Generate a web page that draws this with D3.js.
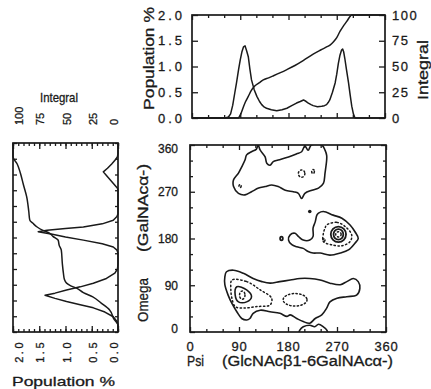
<!DOCTYPE html>
<html>
<head>
<meta charset="utf-8">
<script src="https://cdn.jsdelivr.net/npm/d3@7"></script>
<style>
body { margin: 0; background: #fff; }
text { font-family: "Liberation Sans", Arial, Helvetica, sans-serif; fill: #1a1a1a; stroke: #1a1a1a; stroke-width: 0.3; }
</style>
</head>
<body>
<svg id="fig" width="431" height="389"></svg>
<script>
// ---- Psi distribution (top panel) ----
var psiDeg = [0,62,68,72,76,80,83,87,90,93,96,99,102,105,108,111,116,121,126,130,135,139,148,158,168,177,186,195,202,208,213,217,222,226,234,242,247,251,254,257,262,267,270,273,276,279,281,283,285,288,292,295,298,301,304,360];
var psiPop = [0,0,0.02,0.08,0.25,0.5,0.68,0.95,1.13,1.28,1.38,1.4,1.3,1.19,0.95,0.74,0.55,0.42,0.32,0.26,0.21,0.19,0.16,0.14,0.16,0.19,0.24,0.29,0.32,0.35,0.32,0.29,0.26,0.24,0.22,0.23,0.24,0.26,0.3,0.35,0.5,0.68,0.85,1.06,1.22,1.32,1.34,1.28,1.16,0.95,0.68,0.45,0.23,0.08,0,0];
var psiIntDeg = [0,86,91,96,100,105,111,117,125,133,143,152,165,177,192,208,226,240,251,258,264,270,276,282,289,294,298,360];
var psiInt = [0,0,4,11,16,21,27,31,34,37,39,41,44,47,51,56,62,66,69,71,74,78,84,89,94,98,100,100];

// ---- Omega distribution (left panel) ----
var omDeg = [0,13,20,29,38,46,52,58,64,70,74,80,86,93,102,112,120,130,150,156,162,168,175,181,186,191,194,197,200,206,213,220,225,270,274,282,290,298,305,312,320,328,334,340,360];
var omPop = [0,0,0.02,0.09,0.25,0.47,0.72,0.98,1.2,1.39,1.2,0.98,0.72,0.47,0.22,0.06,0.01,0,0,0.02,0.09,0.3,0.66,1.0,1.25,1.52,1.35,1.0,0.66,0.3,0.09,0.02,0,0,0.01,0.08,0.15,0.22,0.28,0.2,0.12,0.05,0.01,0,0];
var omIntDeg = [0,13,25,42,55,67,75,83,88,93,100,112,130,156,165,175,182,188,194,200,207,213,230,258,280,303,320,334,360];
var omInt = [0,0,4,8,16,24,33,39,45,49,51,52,53,54,56,57,62,65,72,77,81,84,85,87,90,93,96,100,100];

// ---- contour map, [psi, omega] ----
var outerTop = [[101,331],[104,341],[113,347],[122,352],[125,360],[129,350],[138,337],[141,325],[147,321],[153,328],[162,331],[181,337],[196,343],[205,347],[211,358],[217,350],[223,360],[242,360],[248,350],[251,340],[251,331],[248,306],[245,286],[236,277],[224,273],[211,267],[205,257],[199,267],[190,270],[175,273],[162,280],[150,283],[138,280],[126,277],[113,270],[101,264],[89,267],[80,280],[80,293],[89,306],[95,318]];
var outerMid = [[236,229],[245,232],[263,225],[279,219],[294,206],[303,193],[309,180],[303,171],[291,158],[276,152],[257,148],[239,152],[226,152],[217,155],[208,161],[196,164],[187,168],[181,177],[184,187],[193,190],[199,184],[208,177],[220,177],[226,184],[226,200],[230,212],[233,225]];
var outerBottom = [[64,106],[67,116],[80,119],[98,113],[116,103],[132,97],[147,94],[165,97],[184,100],[202,103],[220,103],[239,100],[257,94],[276,91],[288,97],[300,103],[309,97],[312,84],[306,71],[288,68],[270,65],[257,58],[251,46],[242,33],[230,26],[220,17],[208,20],[196,26],[184,33],[178,30],[165,36],[147,39],[129,42],[116,36],[110,26],[104,23],[95,26],[86,39],[77,55],[70,71],[64,91]];
var edgeBlob = [[200,-4],[202,4],[208,10],[220,13],[229,10],[236,15],[245,10],[251,4],[253,-4]];
var innerMid = [[251,206],[270,211],[285,203],[297,187],[294,174],[279,166],[260,168],[245,174],[245,190],[248,200]];
var innerBottom = [[77,100],[104,97],[129,81],[150,65],[147,52],[123,49],[98,46],[83,49],[77,65],[75,84]];
var coreBottom = [[86,87],[104,81],[113,68],[104,58],[89,58],[83,71]];
// rings: [psi, omega, half-width psi, half-height omega]
var solidRings = [[272.6,188,14,15],[272.6,188,9,10],[168,180,2.5,3.5]];
var dottedRings = [[205,305,6,7],[226,309,2.5,4],[92,281,2,3],[193,62,22,12],[96,71,5,8],[272.6,188,5,5],[246,177,2,2.5]];
var dots = [[220,232]];

var majorDeg = [0,90,180,270,360];
var minorDeg = [30,60,120,150,210,240,300,330];
var popTicks = [0,0.5,1,1.5,2];
var intTicks = [0,25,50,75,100];

var ink = "#1a1a1a";
var svg = d3.select("#fig");

var xPsi = d3.scaleLinear().domain([0,360]).range([190,386]);
var yOmega = d3.scaleLinear().domain([0,360]).range([332,145]);
var xTop = d3.scaleLinear().domain([0,360]).range([192,385]);
var yTopPop = d3.scaleLinear().domain([0,2]).range([118,15]);
var yTopInt = d3.scaleLinear().domain([0,100]).range([118,15]);
var xSidePop = d3.scaleLinear().domain([0,2]).range([118,13]);
var xSideInt = d3.scaleLinear().domain([0,100]).range([118,13]);
var ySide = d3.scaleLinear().domain([0,360]).range([332,143]);

function frame(x, y) {
  var xr = x.range(), yr = y.range();
  svg.append("rect")
    .attr("x", Math.min(xr[0], xr[1])).attr("y", Math.min(yr[0], yr[1]))
    .attr("width", Math.abs(xr[1] - xr[0]))
    .attr("height", Math.abs(yr[1] - yr[0]))
    .attr("fill", "none").attr("stroke", ink).attr("stroke-width", 1.7);
}

function ticks(axis, tx, ty, values, len, fmt, pad) {
  var a = axis.tickValues(values).tickSize(-len).tickSizeOuter(0)
    .tickPadding(pad || 3).tickFormat(fmt || function() { return ""; });
  var g = svg.append("g").attr("transform", "translate(" + tx + "," + ty + ")").call(a);
  g.select(".domain").remove();
  g.attr("font-family", null).attr("font-size", null);
  g.selectAll("line").attr("stroke", ink).attr("stroke-width", 1.3);
  g.selectAll("text").attr("fill", ink);
  return g;
}

function rotLabel(txt, x, y, size, len) {
  svg.append("text").attr("transform", "translate(" + x + "," + y + ") rotate(-90)")
    .attr("text-anchor", "middle").attr("font-size", size)
    .attr("textLength", len).attr("lengthAdjust", "spacingAndGlyphs").text(txt);
}
function label(txt, x, y, size, len, anchor) {
  svg.append("text").attr("x", x).attr("y", y).attr("text-anchor", anchor || "start")
    .attr("font-size", size).attr("textLength", len).attr("lengthAdjust", "spacingAndGlyphs").text(txt);
}

// ================= top panel =================
frame(xTop, yTopPop);
ticks(d3.axisTop(xTop), 0, 15, majorDeg, 5);
ticks(d3.axisTop(xTop), 0, 15, minorDeg, 3);
ticks(d3.axisBottom(xTop), 0, 118, majorDeg, 5);
ticks(d3.axisBottom(xTop), 0, 118, minorDeg, 3);
ticks(d3.axisLeft(yTopPop), 192, 0, popTicks, 6, d3.format(".1f"), 10)
  .selectAll("text").attr("font-size", 13).attr("letter-spacing", 3).attr("dx", 3);
ticks(d3.axisRight(yTopInt), 385, 0, intTicks, 6, d3.format("d"), 7)
  .selectAll("text").attr("font-size", 13).attr("letter-spacing", 1.5);

svg.append("path")
  .datum(d3.range(psiDeg.length))
  .attr("fill", "none").attr("stroke", ink).attr("stroke-width", 1.5).attr("stroke-linejoin", "round")
  .attr("d", d3.line().x(function(i) { return xTop(psiDeg[i]); }).y(function(i) { return yTopPop(psiPop[i]); }));
svg.append("path")
  .datum(d3.range(psiIntDeg.length))
  .attr("fill", "none").attr("stroke", ink).attr("stroke-width", 1.5).attr("stroke-linejoin", "round")
  .attr("d", d3.line().x(function(i) { return xTop(psiIntDeg[i]); }).y(function(i) { return yTopInt(psiInt[i]); }).curve(d3.curveMonotoneX));

rotLabel("Population %", 153.5, 58.5, 14, 103);
rotLabel("Integral", 427.5, 70, 14, 60);

// ================= left panel =================
frame(xSidePop, ySide);
ticks(d3.axisLeft(ySide), 13, 0, majorDeg.concat(minorDeg), 4);
ticks(d3.axisRight(ySide), 118, 0, majorDeg.concat(minorDeg), 3);
ticks(d3.axisTop(xSideInt), 0, 143, d3.range(0, 101, 5), 3);
ticks(d3.axisBottom(xSidePop), 0, 332, d3.range(0, 21).map(function(v) { return v / 10; }), 3);

function sideLabelX(px) { return Math.max(22.5, Math.min(117, px + 4.5)); }
ticks(d3.axisTop(xSideInt), 0, 143, intTicks, 6, d3.format("d"))
  .selectAll("text")
  .attr("x", null).attr("y", null).attr("dy", null)
  .attr("font-size", 11).attr("text-anchor", "start")
  .attr("transform", function(d) { return "translate(" + (sideLabelX(xSideInt(d)) - xSideInt(d)) + ",-18) rotate(-90)"; });
ticks(d3.axisBottom(xSidePop), 0, 332, popTicks, 6, d3.format(".1f"))
  .selectAll("text")
  .attr("x", null).attr("y", null).attr("dy", null)
  .attr("font-size", 11).attr("letter-spacing", 2.5).attr("text-anchor", "end")
  .attr("transform", function(d) { return "translate(" + (sideLabelX(xSidePop(d)) - xSidePop(d)) + ",8) rotate(-90)"; });

svg.append("path")
  .datum(d3.range(omDeg.length))
  .attr("fill", "none").attr("stroke", ink).attr("stroke-width", 1.5).attr("stroke-linejoin", "round")
  .attr("d", d3.line().x(function(i) { return xSidePop(omPop[i]); }).y(function(i) { return ySide(omDeg[i]); }));
svg.append("path")
  .datum(d3.range(omIntDeg.length))
  .attr("fill", "none").attr("stroke", ink).attr("stroke-width", 1.5).attr("stroke-linejoin", "round")
  .attr("d", d3.line().x(function(i) { return xSideInt(omInt[i]); }).y(function(i) { return ySide(omIntDeg[i]); }).curve(d3.curveMonotoneY));

label("Integral", 59, 102, 13, 38, "middle");
label("Population %", 63.5, 386, 13, 103, "middle");

// ================= contour map =================
svg.append("clipPath").attr("id", "mapClip").append("rect")
  .attr("x", 190).attr("y", 145).attr("width", 196).attr("height", 187);
var map = svg.append("g").attr("clip-path", "url(#mapClip)");

var shape = d3.line().x(function(d) { return xPsi(d[0]); }).y(function(d) { return yOmega(d[1]); })
  .curve(d3.curveCatmullRomClosed.alpha(0.5));

[outerTop, outerMid, outerBottom, edgeBlob, coreBottom].forEach(function(poly) {
  map.append("path").attr("d", shape(poly))
    .attr("fill", "none").attr("stroke", ink).attr("stroke-width", 1.6).attr("stroke-linejoin", "round");
});
[innerMid, innerBottom].forEach(function(poly) {
  map.append("path").attr("d", shape(poly))
    .attr("fill", "none").attr("stroke", ink).attr("stroke-width", 1.5)
    .attr("stroke-dasharray", "1.3 2.6").attr("stroke-linecap", "round");
});
map.selectAll("ellipse.solid").data(solidRings).enter().append("ellipse")
  .attr("cx", function(d) { return xPsi(d[0]); }).attr("cy", function(d) { return yOmega(d[1]); })
  .attr("rx", function(d) { return xPsi(d[2]) - xPsi(0); }).attr("ry", function(d) { return yOmega(0) - yOmega(d[3]); })
  .attr("fill", "none").attr("stroke", ink).attr("stroke-width", 1.8);
map.selectAll("ellipse.dot").data(dottedRings).enter().append("ellipse")
  .attr("cx", function(d) { return xPsi(d[0]); }).attr("cy", function(d) { return yOmega(d[1]); })
  .attr("rx", function(d) { return xPsi(d[2]) - xPsi(0); }).attr("ry", function(d) { return yOmega(0) - yOmega(d[3]); })
  .attr("fill", "none").attr("stroke", ink).attr("stroke-width", 1.5)
  .attr("stroke-dasharray", "1.3 2.4").attr("stroke-linecap", "round");
map.selectAll("circle").data(dots).enter().append("circle")
  .attr("cx", function(d) { return xPsi(d[0]); }).attr("cy", function(d) { return yOmega(d[1]); })
  .attr("r", 1.8).attr("fill", ink);

frame(xPsi, yOmega);
ticks(d3.axisTop(xPsi), 0, 145, majorDeg, 5);
ticks(d3.axisTop(xPsi), 0, 145, minorDeg, 3);
ticks(d3.axisRight(yOmega), 386, 0, majorDeg, 5);
ticks(d3.axisRight(yOmega), 386, 0, minorDeg, 3);
ticks(d3.axisBottom(xPsi), 0, 332, minorDeg, 3);
ticks(d3.axisLeft(yOmega), 190, 0, minorDeg, 3);
ticks(d3.axisBottom(xPsi), 0, 332, majorDeg, 5, d3.format("d"), 10)
  .selectAll("text").attr("font-size", 13).attr("letter-spacing", 0.8);
ticks(d3.axisLeft(yOmega), 190, 0, majorDeg, 5, d3.format("d"), 12)
  .selectAll("text").attr("font-size", 12)
  .attr("transform", function(d) { return d === 360 ? "translate(0,4)" : d === 0 ? "translate(0,-3)" : null; });

rotLabel("Omega", 148, 300, 14, 44);
rotLabel("(GalNAc\u03b1-)", 148, 208, 14, 88);
label("Psi", 187, 366, 14, 17);
label("(GlcNAc\u03b21-6GalNAc\u03b1-)", 222, 366, 14, 171);
</script>
</body>
</html>
